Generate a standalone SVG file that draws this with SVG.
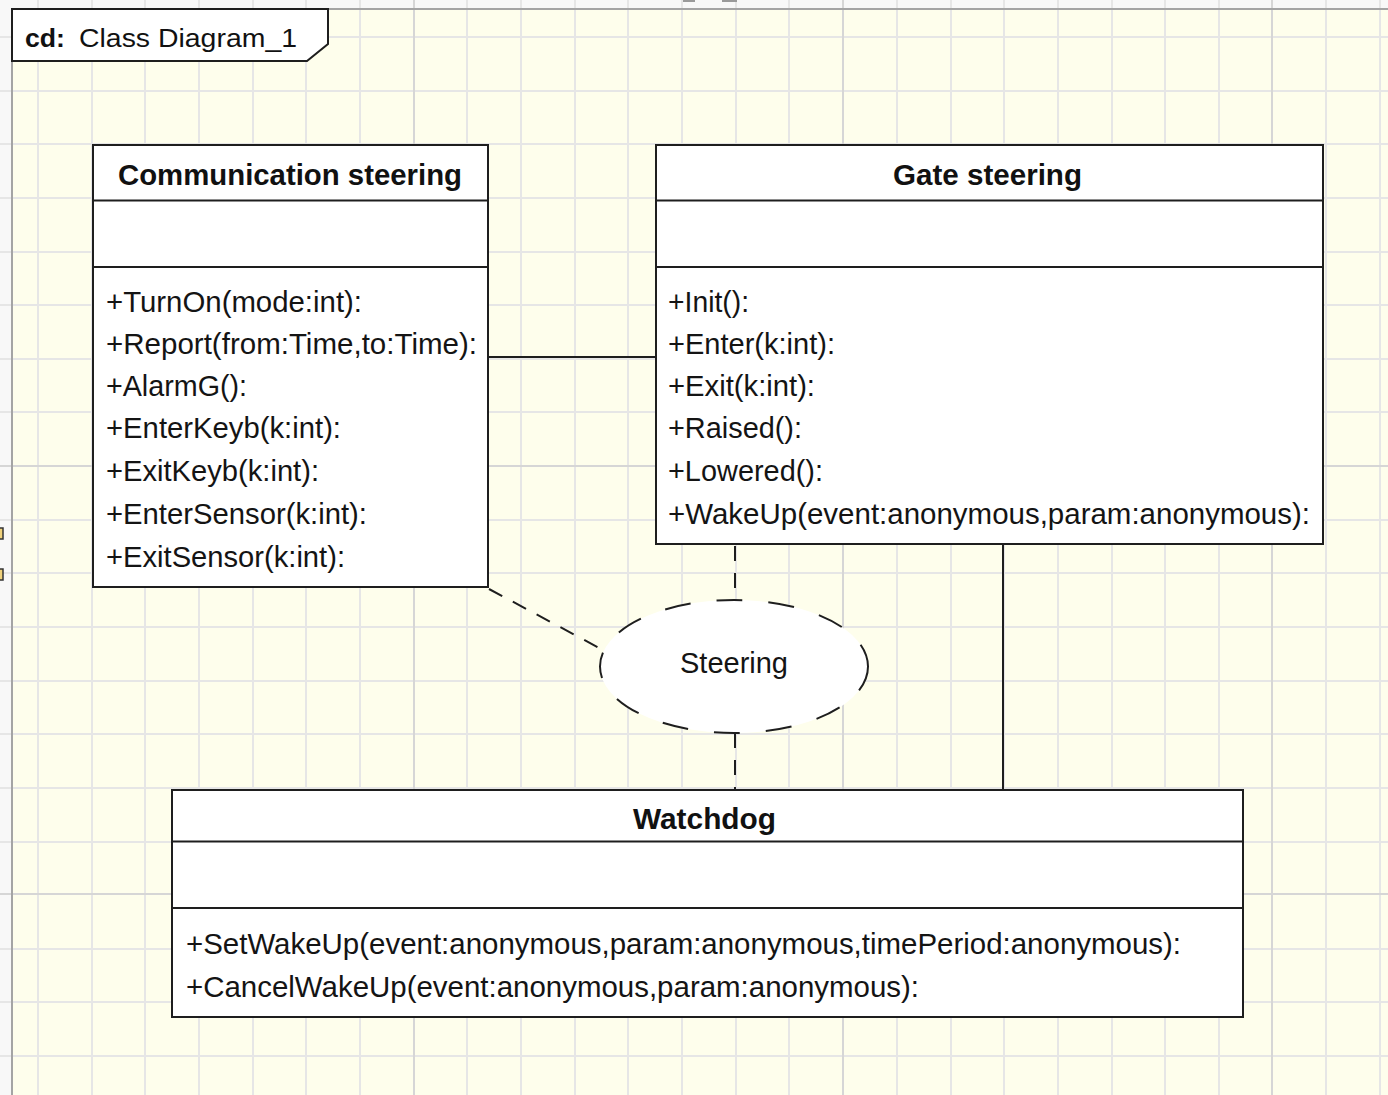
<svg xmlns="http://www.w3.org/2000/svg" width="1388" height="1095" viewBox="0 0 1388 1095">
  <style>
    .op { font-family: "Liberation Sans", Arial, sans-serif; font-size: 29px; fill: #141414; }
    .title { font-family: "Liberation Sans", Arial, sans-serif; font-size: 29px; font-weight: bold; fill: #111; }
    .box { fill: #ffffff; stroke: #1e1e1e; stroke-width: 2; }
    .sep { stroke: #1e1e1e; stroke-width: 2; }
    .grid { stroke: #e6e6e6; stroke-width: 2; fill: none; }
    .grid-major { stroke: #d6d6d6; stroke-width: 2; fill: none; }
    .solid { stroke: #1e1e1e; stroke-width: 2; fill: none; }
    .dashed { stroke: #1e1e1e; stroke-width: 2; fill: none; stroke-dasharray: 15 12; }
  </style>

  <!-- canvas background and diagram frame -->
  <rect x="0" y="0" width="1388" height="1095" fill="#f8f8f8"/>
  <rect x="12" y="9" width="1376" height="1086" fill="#fefeec"/>

  <!-- grid -->
  <path class="grid" d="M38 0V1095 M92 0V1095 M145 0V1095 M199 0V1095 M253 0V1095 M306 0V1095 M360 0V1095 M467 0V1095 M521 0V1095 M575 0V1095 M628 0V1095 M682 0V1095 M736 0V1095 M789 0V1095 M897 0V1095 M951 0V1095 M1004 0V1095 M1058 0V1095 M1112 0V1095 M1165 0V1095 M1219 0V1095 M1326 0V1095 M1380 0V1095
    M0 37H1388 M0 91H1388 M0 144H1388 M0 198H1388 M0 252H1388 M0 305H1388 M0 359H1388 M0 412H1388 M0 520H1388 M0 573H1388 M0 627H1388 M0 681H1388 M0 734H1388 M0 788H1388 M0 842H1388 M0 949H1388 M0 1002H1388 M0 1056H1388"/>
  <path class="grid-major" d="M414 0V1095 M843 0V1095 M1272 0V1095 M0 466H1388 M0 894H1388"/>

  <!-- frame border -->
  <path d="M12 1095V9H1388" fill="none" stroke="#a4a4a4" stroke-width="2"/>

  <!-- partially visible elements at the canvas edges -->
  <rect x="683" y="-2" width="12" height="4" fill="#9a9a9a"/>
  <rect x="722" y="-2" width="15" height="4" fill="#9a9a9a"/>
  <rect x="-4" y="528" width="7" height="11" fill="#f0d27c" stroke="#333" stroke-width="1.5"/>
  <rect x="-4" y="569" width="7" height="11" fill="#f0d27c" stroke="#333" stroke-width="1.5"/>

  <!-- frame label tab -->
  <g id="frame-label">
    <path d="M12 9H328V44L307 61H12Z" fill="#ffffff" stroke="#1e1e1e" stroke-width="2"/>
    <text x="25" y="47" font-family="'Liberation Sans', Arial, sans-serif" font-size="26" font-weight="bold" fill="#111" textLength="40" lengthAdjust="spacingAndGlyphs">cd:</text>
    <text x="79" y="47" font-family="'Liberation Sans', Arial, sans-serif" font-size="26" fill="#111" textLength="218" lengthAdjust="spacingAndGlyphs">Class Diagram_1</text>
  </g>

  <!-- connectors -->
  <g id="connectors">
    <line class="solid" x1="489" y1="357" x2="656" y2="357"/>
    <line class="solid" x1="1003" y1="545" x2="1003" y2="790"/>
    <line class="dashed" x1="735" y1="546" x2="735" y2="600"/>
    <line class="dashed" x1="735" y1="733" x2="735" y2="790"/>
    <line class="dashed" x1="489" y1="589" x2="603" y2="650"/>
  </g>

  <!-- Communication steering -->
  <g id="communication-steering">
    <rect class="box" x="93" y="145" width="395" height="442"/>
    <line class="sep" x1="93" y1="200.5" x2="488" y2="200.5"/>
    <line class="sep" x1="93" y1="267" x2="488" y2="267"/>
    <text class="title" x="118" y="185" textLength="344" lengthAdjust="spacingAndGlyphs">Communication steering</text>
    <text class="op" x="106" y="312" textLength="256" lengthAdjust="spacingAndGlyphs">+TurnOn(mode:int):</text>
    <text class="op" x="106" y="354" textLength="371" lengthAdjust="spacingAndGlyphs">+Report(from:Time,to:Time):</text>
    <text class="op" x="106" y="396" textLength="141" lengthAdjust="spacingAndGlyphs">+AlarmG():</text>
    <text class="op" x="106" y="438" textLength="235" lengthAdjust="spacingAndGlyphs">+EnterKeyb(k:int):</text>
    <text class="op" x="106" y="481" textLength="213" lengthAdjust="spacingAndGlyphs">+ExitKeyb(k:int):</text>
    <text class="op" x="106" y="524" textLength="261" lengthAdjust="spacingAndGlyphs">+EnterSensor(k:int):</text>
    <text class="op" x="106" y="567" textLength="239" lengthAdjust="spacingAndGlyphs">+ExitSensor(k:int):</text>
  </g>

  <!-- Gate steering -->
  <g id="gate-steering">
    <rect class="box" x="656" y="145" width="667" height="399"/>
    <line class="sep" x1="656" y1="200.5" x2="1323" y2="200.5"/>
    <line class="sep" x1="656" y1="267" x2="1323" y2="267"/>
    <text class="title" x="893" y="185" textLength="189" lengthAdjust="spacingAndGlyphs">Gate steering</text>
    <text class="op" x="668" y="312" textLength="81" lengthAdjust="spacingAndGlyphs">+Init():</text>
    <text class="op" x="668" y="354" textLength="167" lengthAdjust="spacingAndGlyphs">+Enter(k:int):</text>
    <text class="op" x="668" y="396" textLength="147" lengthAdjust="spacingAndGlyphs">+Exit(k:int):</text>
    <text class="op" x="668" y="438" textLength="134" lengthAdjust="spacingAndGlyphs">+Raised():</text>
    <text class="op" x="668" y="481" textLength="155" lengthAdjust="spacingAndGlyphs">+Lowered():</text>
    <text class="op" x="668" y="524" textLength="642" lengthAdjust="spacingAndGlyphs">+WakeUp(event:anonymous,param:anonymous):</text>
  </g>

  <!-- Steering collaboration -->
  <g id="steering">
    <ellipse cx="734" cy="666.5" rx="134" ry="66.5" fill="#ffffff" stroke="#1e1e1e" stroke-width="2" stroke-dasharray="26 26"/>
    <text class="op" x="680" y="673" textLength="108" lengthAdjust="spacingAndGlyphs">Steering</text>
  </g>

  <!-- Watchdog -->
  <g id="watchdog">
    <rect class="box" x="172" y="790" width="1071" height="227"/>
    <line class="sep" x1="172" y1="841.5" x2="1243" y2="841.5"/>
    <line class="sep" x1="172" y1="908" x2="1243" y2="908"/>
    <text class="title" x="633" y="829" textLength="143" lengthAdjust="spacingAndGlyphs">Watchdog</text>
    <text class="op" x="186" y="954" textLength="995" lengthAdjust="spacingAndGlyphs">+SetWakeUp(event:anonymous,param:anonymous,timePeriod:anonymous):</text>
    <text class="op" x="186" y="997" textLength="733" lengthAdjust="spacingAndGlyphs">+CancelWakeUp(event:anonymous,param:anonymous):</text>
  </g>
</svg>
